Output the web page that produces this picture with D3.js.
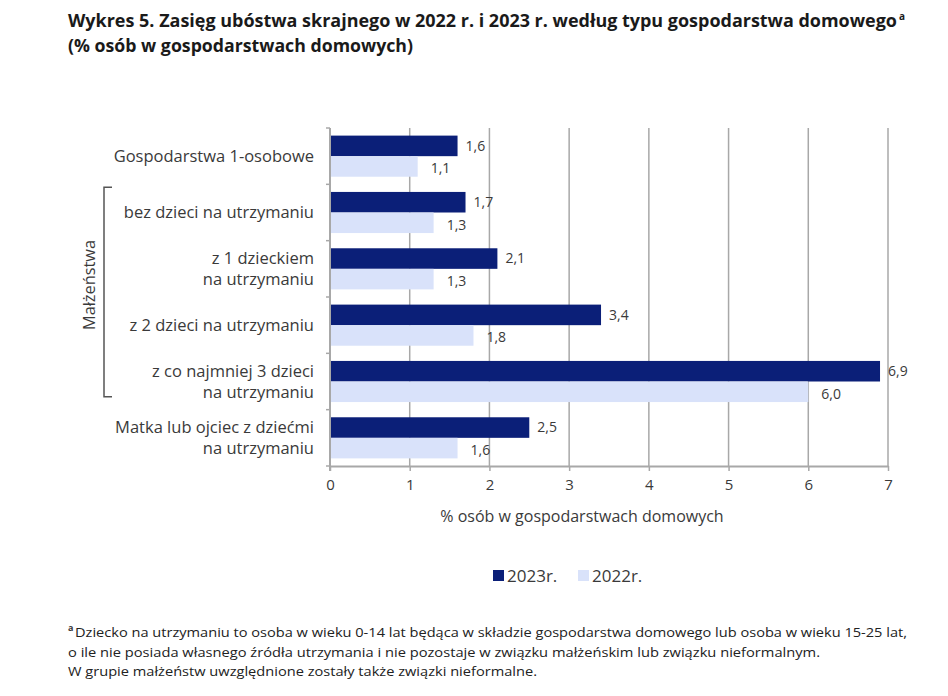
<!DOCTYPE html>
<html>
<head>
<meta charset="utf-8">
<script src="https://cdn.jsdelivr.net/npm/d3@7"></script>
<style>
  body { margin: 0; background: #fff; }
  text { font-family: "Open Sans", sans-serif; fill: #3a3a3a; }
</style>
</head>
<body>
<svg id="chart" width="948" height="696"></svg>
<script>
// data
const categories = [
  'Gospodarstwa 1-osobowe',
  'bez dzieci na utrzymaniu',
  'z 1 dzieckiem|na utrzymaniu',
  'z 2 dzieci na utrzymaniu',
  'z co najmniej 3 dzieci|na utrzymaniu',
  'Matka lub ojciec z dziećmi|na utrzymaniu'
];
const seriesNames = ['2023r.', '2022r.'];
const values2023 = [1.6, 1.7, 2.1, 3.4, 6.9, 2.5];
const values2022 = [1.1, 1.3, 1.3, 1.8, 6.0, 1.6];
const xTicks = [0, 1, 2, 3, 4, 5, 6, 7];

const colors = {'2023r.': '#0b1f78', '2022r.': '#d9e2fa'};
const gridColor = '#a8a8a8';

const margin = {top: 128, left: 330};
const width = 558;
const height = 338;

const svg = d3.select('#chart');

// titles
svg.append('text')
  .attr('x', 68).attr('y', 27)
  .attr('font-size', 17).attr('font-weight', 'bold')
  .attr('textLength', 829).attr('lengthAdjust', 'spacingAndGlyphs')
  .style('fill', '#1a1a1a')
  .text('Wykres 5. Zasięg ubóstwa skrajnego w 2022 r. i 2023 r. według typu gospodarstwa domowego');
svg.append('text')
  .attr('x', 899).attr('y', 20)
  .attr('font-size', 10).attr('font-weight', 'bold')
  .style('fill', '#1a1a1a')
  .text('a');
svg.append('text')
  .attr('x', 68).attr('y', 52)
  .attr('font-size', 17).attr('font-weight', 'bold')
  .attr('textLength', 345).attr('lengthAdjust', 'spacingAndGlyphs')
  .style('fill', '#1a1a1a')
  .text('(% osób w gospodarstwach domowych)');

const g = svg.append('g')
  .attr('transform', `translate(${margin.left},${margin.top})`);

const xScale = d3.scaleLinear().domain([0, 7]).range([0, width]);
const yScale = d3.scaleBand().domain(categories).range([0, height]);
const ySub = d3.scaleBand().domain(seriesNames)
  .range([0, yScale.bandwidth()]).paddingOuter(0.37);

// gridlines
g.selectAll('line.grid')
  .data(xTicks.filter(d => d > 0))
  .enter().append('line')
  .attr('class', 'grid')
  .attr('x1', d => xScale(d)).attr('x2', d => xScale(d))
  .attr('y1', 0).attr('y2', height)
  .attr('stroke', gridColor).attr('stroke-width', 1.5);

// bars
const rows = categories.map((c, i) => ({cat: c, v: {'2023r.': values2023[i], '2022r.': values2022[i]}}));

seriesNames.forEach(s => {
  g.selectAll(`rect.s${s.slice(0, 4)}`)
    .data(rows)
    .enter().append('rect')
    .attr('x', 0)
    .attr('y', d => yScale(d.cat) + ySub(s))
    .attr('width', d => xScale(d.v[s]))
    .attr('height', ySub.bandwidth())
    .attr('fill', colors[s]);

  g.selectAll(`text.l${s.slice(0, 4)}`)
    .data(rows)
    .enter().append('text')
    .attr('x', d => xScale(d.v[s]) + (s === '2023r.' ? 8 : 13))
    .attr('y', d => yScale(d.cat) + ySub(s) + ySub.bandwidth() / 2 + (s === '2023r.' ? 0 : 2))
    .attr('dy', '0.35em')
    .attr('font-size', 14)
    .text(d => d3.format('.1f')(d.v[s]).replace('.', ','));
});

// x axis
const xAxis = g.append('g')
  .attr('transform', `translate(0,${height})`)
  .call(d3.axisBottom(xScale).tickValues(xTicks).tickFormat(d3.format('d'))
    .tickSize(5).tickPadding(8).tickSizeOuter(0));
xAxis.select('.domain').attr('stroke', gridColor).attr('stroke-width', 2);
xAxis.selectAll('.tick line').attr('stroke', gridColor).attr('stroke-width', 1.5);
xAxis.selectAll('.tick text')
  .attr('font-size', 15).attr('font-family', '"Open Sans", sans-serif')
  .style('fill', '#3a3a3a');

// y axis line with boundary ticks
g.append('line')
  .attr('x1', 0).attr('x2', 0).attr('y1', 0).attr('y2', height + 5)
  .attr('stroke', gridColor).attr('stroke-width', 2);
g.selectAll('line.ytick')
  .data(categories.map(c => yScale(c)).concat([height]))
  .enter().append('line')
  .attr('x1', -4).attr('x2', 0)
  .attr('y1', d => d).attr('y2', d => d)
  .attr('stroke', gridColor).attr('stroke-width', 1.5);

// category labels
categories.forEach(c => {
  const lines = c.split('|');
  const cy = yScale(c) + yScale.bandwidth() / 2;
  const t = g.append('text')
    .attr('text-anchor', 'end')
    .attr('font-size', 16.5)
    .attr('y', cy - (lines.length - 1) * 10.5);
  lines.forEach((l, i) => {
    t.append('tspan')
      .attr('x', -16)
      .attr('dy', i === 0 ? '0.35em' : 21)
      .text(l);
  });
});

// bracket for Małżeństwa
const bTop = yScale(categories[1]) + 3;
const bBot = yScale(categories[4]) + yScale.bandwidth() - 13;
g.append('path')
  .attr('d', `M${-218},${bTop} H${-226} V${bBot} H${-218}`)
  .attr('fill', 'none').attr('stroke', '#555').attr('stroke-width', 1.5);
g.append('text')
  .attr('transform', `translate(${-241},${(bTop + bBot) / 2 - 7}) rotate(-90)`)
  .attr('x', -45)
  .attr('dy', '0.35em')
  .attr('font-size', 16)
  .attr('textLength', 90).attr('lengthAdjust', 'spacingAndGlyphs')
  .text('Małżeństwa');

// axis title
svg.append('text')
  .attr('x', 582).attr('y', 522)
  .attr('text-anchor', 'middle')
  .attr('font-size', 16)
  .text('% osób w gospodarstwach domowych');

// legend
const legend = svg.append('g').attr('transform', 'translate(493,576)');
const legX = [0, 85];
seriesNames.forEach((s, i) => {
  legend.append('rect')
    .attr('x', legX[i]).attr('y', -6)
    .attr('width', 11).attr('height', 11)
    .attr('fill', colors[s]);
  legend.append('text')
    .attr('x', legX[i] + 14).attr('y', 0)
    .attr('dy', '0.35em')
    .attr('font-size', 17)
    .text(s);
});

// footnote
const notes = [
  {t: 'Dziecko na utrzymaniu to osoba w wieku 0-14 lat będąca w składzie gospodarstwa domowego lub osoba w wieku 15-25 lat,', x: 75, y: 637, w: 832},
  {t: 'o ile nie posiada własnego źródła utrzymania i nie pozostaje w związku małżeńskim lub związku nieformalnym.', x: 68, y: 657, w: 752},
  {t: 'W grupie małżeństw uwzględnione zostały także związki nieformalne.', x: 68, y: 676, w: 469}
];
svg.append('text')
  .attr('x', 68).attr('y', 631)
  .attr('font-size', 9).attr('font-weight', 'bold')
  .text('a');
notes.forEach(n => {
  svg.append('text')
    .attr('x', n.x).attr('y', n.y)
    .attr('font-size', 13)
    .attr('textLength', n.w).attr('lengthAdjust', 'spacingAndGlyphs')
    .style('fill', '#222')
    .text(n.t);
});
</script>
</body>
</html>
